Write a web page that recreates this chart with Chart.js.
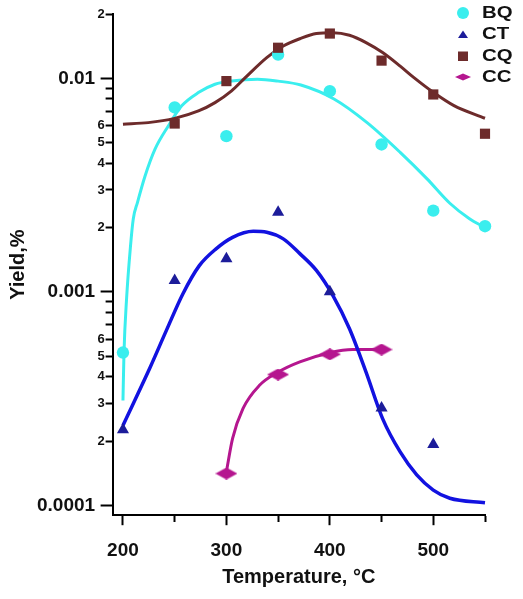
<!DOCTYPE html>
<html><head><meta charset="utf-8">
<script src="https://cdn.jsdelivr.net/npm/chart.js@4.4.1/dist/chart.umd.min.js"></script>
<style>
html,body{margin:0;padding:0;background:#fff;}
#wrap{position:relative;width:523px;height:599px;overflow:hidden;}
#c{position:absolute;left:0;top:0;}
.item{position:absolute;left:453px;height:20px;display:flex;align-items:center;font:bold 17px "Liberation Sans",Arial,sans-serif;color:#111;line-height:20px;}
.item svg{width:20px;height:20px;display:block;}
.item span{display:inline-block;margin-left:9px;transform:scaleX(1.2);transform-origin:left center;}
</style></head><body>
<div id="wrap"><canvas id="c" width="523" height="599"></canvas></div>
<script>
// ---------- data ----------
const seriesNames = ['BQ', 'CT', 'CQ', 'CC'];

const bqT = [200, 250, 300, 350, 400, 450, 500, 550];
const bqY = [0.00052, 0.0073, 0.00536, 0.0129, 0.0087, 0.0049, 0.0024, 0.00203];

const ctT = [200, 250, 300, 350, 400, 450, 500];
const ctY = [0.000226, 0.00113, 0.00143, 0.00236, 0.001, 0.000286, 0.000193];

const cqT = [250, 300, 350, 400, 450, 500, 550];
const cqY = [0.00614, 0.0097, 0.0139, 0.0162, 0.0121, 0.0084, 0.0055];

const ccT = [300, 350, 400, 450];
const ccY = [0.000141, 0.00041, 0.00051, 0.000537];

// fitted curves
const bqFitT = [200, 201, 203.5, 207.2, 210, 214, 221.3, 231, 243.8, 256.8, 272.9, 289, 305, 330, 350, 372, 404, 436, 468, 494, 516, 535, 550];
const bqFitY = [0.00031, 0.00052, 0.00093, 0.00162, 0.0022, 0.00262, 0.00348, 0.00466, 0.00598, 0.00743, 0.00857, 0.00938, 0.00971, 0.0099, 0.0097, 0.0093, 0.0080, 0.0062, 0.0045, 0.00338, 0.0026, 0.0022, 0.0020];

const ctFitT = [200, 226, 242, 258, 274, 290, 306, 326, 339, 355, 371, 387, 403, 419, 435, 451, 468, 484, 500, 516, 550];
const ctFitY = [0.000237, 0.00044, 0.00066, 0.00098, 0.00133, 0.00159, 0.0018, 0.00192, 0.0019, 0.00177, 0.00151, 0.00126, 0.00096, 0.000672, 0.000421, 0.000255, 0.000178, 0.000139, 0.000118, 0.000108, 0.000103];

const cqFitT = [200, 224.5, 250, 273, 289, 305, 318, 339, 355, 371, 387, 403, 419, 435, 451, 468, 481, 500, 520, 550];
const cqFitY = [0.0061, 0.0062, 0.00649, 0.00703, 0.00769, 0.00873, 0.01004, 0.0125, 0.01416, 0.01532, 0.0162, 0.01634, 0.0159, 0.0147, 0.0132, 0.0114, 0.0101, 0.0086, 0.00745, 0.0065];

const ccFitT = [300, 306, 316, 332, 350, 371, 400, 422, 450];
const ccFitY = [0.000144, 0.000206, 0.000284, 0.000365, 0.000421, 0.00047, 0.000519, 0.000537, 0.000537];

// axis ticks
const xTickValues = [200, 250, 300, 350, 400, 450, 500, 550];
const xTickLabels = ['200', '', '300', '', '400', '', '500', ''];
const yTickValues = [0.0001, 0.0002, 0.0003, 0.0004, 0.0005, 0.0006, 0.0007, 0.0008, 0.0009,
                     0.001, 0.002, 0.003, 0.004, 0.005, 0.006, 0.007, 0.008, 0.009,
                     0.01, 0.02];
const yTickLabels = ['0.0001', '2', '3', '4', '5', '6', '', '', '',
                     '0.001', '2', '3', '4', '5', '6', '', '', '',
                     '0.01', '2'];
const yDecades = [0.0001, 0.001, 0.01];

// ---------- styles ----------
const FONT = '"Liberation Sans", Arial, Helvetica, sans-serif';
const colCyan = '#3aeeee';
const colBlueLine = '#1212e0';
const colBlueMark = '#1c1c9a';
const colBrown = '#6d2b2b';
const colMagenta = '#b5168f';

function diamondCanvas(w, h, color) {
  const c = document.createElement('canvas');
  c.width = w; c.height = h;
  const g = c.getContext('2d');
  g.fillStyle = color;
  g.beginPath();
  g.moveTo(w / 2, 0); g.lineTo(w, h / 2); g.lineTo(w / 2, h); g.lineTo(0, h / 2);
  g.closePath(); g.fill();
  return c;
}

const pts = (xs, ys) => xs.map((x, i) => ({ x: x, y: ys[i] }));

function markerSet(label, xs, ys, color, style, radius, order) {
  return { label, data: pts(xs, ys), showLine: false, pointStyle: style, pointRadius: radius,
           pointHoverRadius: radius, backgroundColor: color, borderColor: color, borderWidth: 0,
           clip: false, order };
}
function curveSet(label, xs, ys, color, order, width) {
  return { label, data: pts(xs, ys), showLine: true, pointRadius: 0, pointHoverRadius: 0,
           borderColor: color, backgroundColor: color, borderWidth: width, fill: false,
           cubicInterpolationMode: 'monotone', clip: 4, order };
}

const datasets = [
  markerSet(seriesNames[0], bqT, bqY, colCyan, 'circle', 6.2, 3),
  markerSet(seriesNames[1], ctT, ctY, colBlueMark, 'triangle', 7, 2),
  markerSet(seriesNames[2], cqT, cqY, colBrown, 'rect', 7.2, 0),
  markerSet(seriesNames[3], ccT, ccY, colMagenta, diamondCanvas(22, 12, colMagenta), 6, 1),
  curveSet('BQ fit', bqFitT, bqFitY, colCyan, 7, 3),
  curveSet('CT fit', ctFitT, ctFitY, colBlueLine, 5, 3.5),
  curveSet('CQ fit', cqFitT, cqFitY, colBrown, 4, 3),
  curveSet('CC fit', ccFitT, ccFitY, colMagenta, 6, 3)
];

new Chart(document.getElementById('c'), {
  type: 'scatter',
  data: { datasets },
  options: {
    responsive: false,
    animation: false,
    events: [],
    layout: { padding: { left: 6, top: 14, right: 38, bottom: 10 } },
    plugins: { legend: { display: false }, tooltip: { enabled: false } },
    scales: {
      x: {
        type: 'linear', min: 190, max: 550,
        afterBuildTicks: s => { s.ticks = xTickValues.map(v => ({ value: v })); },
        ticks: {
          autoSkip: false, maxRotation: 0, padding: 14, color: '#111',
          font: { family: FONT, size: 19, weight: 'bold' },
          callback: (v, i) => xTickLabels[i]
        },
        grid: {
          drawOnChartArea: false, drawTicks: true, tickLength: 10, tickWidth: 2, tickColor: '#000',
          tickBorderDash: c => (xTickLabels[c.index] ? [] : [6, 30])
        },
        border: { display: true, color: '#000', width: 2 },
        title: {
          display: true, text: 'Temperature, °C', color: '#111',
          font: { family: FONT, size: 20, weight: 'bold' }, padding: { top: -11, bottom: 0 }
        }
      },
      y: {
        type: 'logarithmic', min: 0.00009, max: 0.02,
        afterBuildTicks: s => { s.ticks = yTickValues.map(v => ({ value: v, major: yDecades.includes(v) })); },
        ticks: {
          autoSkip: false, padding: -4, color: '#111',
          font: c => (yDecades.includes(c.tick.value)
            ? { family: FONT, size: 19, weight: 'bold' }
            : { family: FONT, size: 13, weight: 'bold' }),
          callback: (v, i) => (yDecades.includes(yTickValues[i]) ? yTickLabels[i] + '\u2002' : yTickLabels[i])
        },
        grid: {
          drawOnChartArea: false, drawTicks: true, tickLength: 12, tickWidth: 2, tickColor: '#000',
          tickBorderDash: c => (yDecades.includes(yTickValues[c.index]) ? [] : [0, 5, 30])
        },
        border: { display: true, color: '#000', width: 2 },
        title: {
          display: true, text: 'Yield,%', color: '#111',
          font: { family: FONT, size: 20, weight: 'bold' }, padding: { top: 0, bottom: 11 }
        }
      }
    }
  }
});

// ---------- legend (HTML text) ----------
const legendColors = [colCyan, colBlueMark, colBrown, colMagenta];
const legendShapes = [
  c => `<circle cx="10" cy="10" r="6" fill="${c}"/>`,
  c => `<polygon points="10,6.5 15,14 5,14" fill="${c}"/>`,
  c => `<rect x="5" y="5.5" width="10" height="9.5" fill="${c}"/>`,
  c => `<polygon points="10,6.5 18,10 10,13.5 2,10" fill="${c}"/>`
];
const wrap = document.getElementById('wrap');
seriesNames.forEach((name, i) => {
  const d = document.createElement('div');
  d.className = 'item';
  d.style.top = (2.7 + i * 21.4) + 'px';
  d.innerHTML = `<svg viewBox="0 0 20 20">${legendShapes[i](legendColors[i])}</svg><span>${name}</span>`;
  wrap.appendChild(d);
});
</script>
</body></html>
